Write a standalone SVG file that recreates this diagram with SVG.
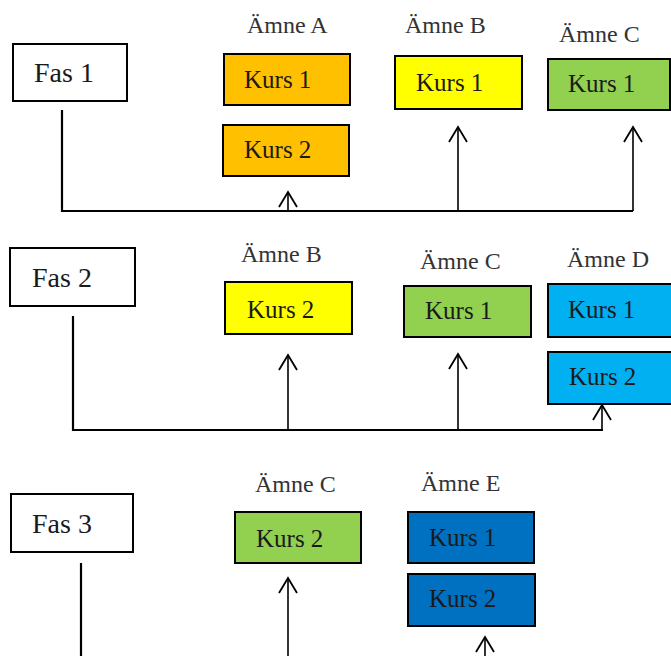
<svg xmlns="http://www.w3.org/2000/svg" width="671" height="656" viewBox="0 0 671 656">
<defs>
<marker id="arr" markerUnits="userSpaceOnUse" markerWidth="40" markerHeight="40" refX="0" refY="0" orient="auto" overflow="visible">
<path d="M-15,-9 L0,0 L-15,9" fill="none" stroke="#000" stroke-width="1.8"/>
</marker>
<style>
.box{stroke:#000;stroke-width:2}
.fas{fill:#fff}
.a{fill:#FFC000}
.b{fill:#FFFF00}
.c{fill:#92D050}
.d{fill:#00B0F0}
.e{fill:#0070C0}
text{font-family:"Liberation Serif","Times New Roman",serif;fill:#1a1a1a}
.ft{font-size:28px}
.kt{font-size:25px}
.lt{font-size:24px;fill:#333}
.ln{fill:none;stroke:#000;stroke-width:2.2}
.ar{fill:none;stroke:#000;stroke-width:1.6;marker-end:url(#arr)}
</style>
</defs>
<rect width="671" height="656" fill="#fff"/>

<g id="fas1"><rect class="box fas" x="13" y="44" width="114" height="57"/><text class="ft" x="34" y="82">Fas 1</text></g>
<g id="fas2"><rect class="box fas" x="10" y="248" width="125" height="58"/><text class="ft" x="32" y="287">Fas 2</text></g>
<g id="fas3"><rect class="box fas" x="11" y="494" width="122" height="58"/><text class="ft" x="32" y="533">Fas 3</text></g>

<g id="labels">
<text class="lt" x="247" y="33">Ämne A</text>
<text class="lt" x="405" y="33">Ämne B</text>
<text class="lt" x="559" y="42">Ämne C</text>
<text class="lt" x="241" y="262">Ämne B</text>
<text class="lt" x="420" y="269">Ämne C</text>
<text class="lt" x="567" y="267">Ämne D</text>
<text class="lt" x="255" y="492">Ämne C</text>
<text class="lt" x="421" y="491">Ämne E</text>
</g>

<g id="f1a1"><rect class="box a" x="224" y="54" width="126" height="51"/><text class="kt" x="244" y="88">Kurs 1</text></g>
<g id="f1a2"><rect class="box a" x="223" y="125" width="126" height="51"/><text class="kt" x="244" y="158">Kurs 2</text></g>
<g id="f1b1"><rect class="box b" x="395" y="56" width="127" height="53"/><text class="kt" x="416" y="91">Kurs 1</text></g>
<g id="f1c1"><rect class="box c" x="548" y="59" width="122" height="51"/><text class="kt" x="568" y="92">Kurs 1</text></g>

<g id="f2b2"><rect class="box b" x="225" y="282" width="127" height="52"/><text class="kt" x="247" y="318">Kurs 2</text></g>
<g id="f2c1"><rect class="box c" x="404" y="286" width="127" height="51"/><text class="kt" x="425" y="319">Kurs 1</text></g>
<g id="f2d1"><rect class="box d" x="548" y="284" width="125" height="53"/><text class="kt" x="568" y="318">Kurs 1</text></g>
<g id="f2d2"><rect class="box d" x="548" y="352" width="125" height="52"/><text class="kt" x="569" y="385">Kurs 2</text></g>

<g id="f3c2"><rect class="box c" x="235" y="512" width="126" height="51"/><text class="kt" x="256" y="547">Kurs 2</text></g>
<g id="f3e1"><rect class="box e" x="408" y="512" width="126" height="51"/><text class="kt" x="429" y="546">Kurs 1</text></g>
<g id="f3e2"><rect class="box e" x="408" y="574" width="127" height="52"/><text class="kt" x="429" y="607">Kurs 2</text></g>

<g id="connectors">
<path class="ln" d="M62,110 V211 H633"/>
<line class="ar" x1="288" y1="211" x2="288" y2="192"/>
<line class="ar" x1="458" y1="211" x2="458" y2="127"/>
<line class="ar" x1="633" y1="211" x2="633" y2="127"/>
<path class="ln" d="M73,316 V430 H603"/>
<line class="ar" x1="288" y1="430" x2="288" y2="355"/>
<line class="ar" x1="458" y1="430" x2="458" y2="354"/>
<line class="ar" x1="602" y1="430" x2="602" y2="405"/>
<line class="ln" x1="81" y1="563" x2="81" y2="656"/>
<line class="ar" x1="288" y1="656" x2="288" y2="578"/>
<line class="ar" x1="485" y1="656" x2="485" y2="637"/>
</g>
</svg>
